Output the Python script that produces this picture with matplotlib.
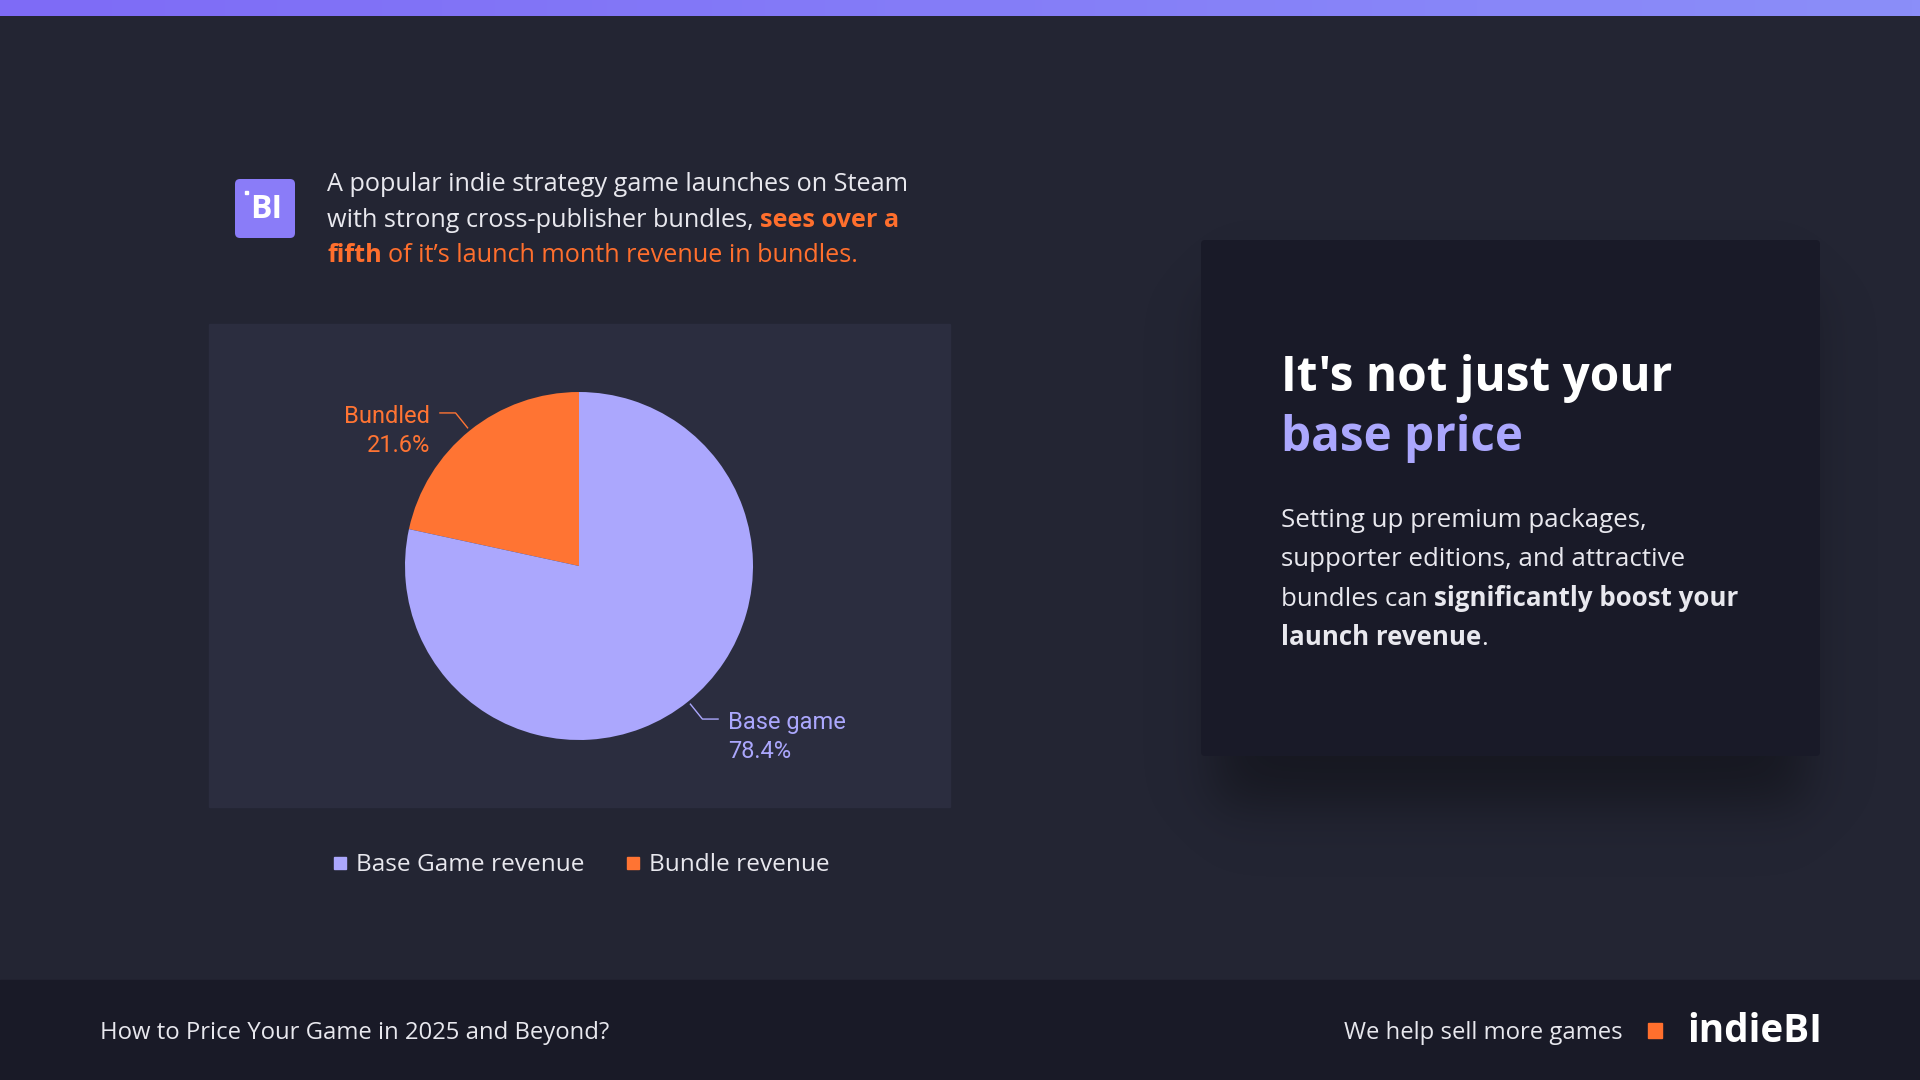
import matplotlib.pyplot as plt
import numpy as np
from matplotlib.patches import FancyBboxPatch, Rectangle
from matplotlib.colors import LinearSegmentedColormap

plt.rcParams['font.family'] = ['Open Sans', 'DejaVu Sans']

# data
slice_names = ['Bundled', 'Base game']
slice_shares = [21.6, 78.4]
slice_colors = ['#ff7433', '#aba7fd']
legend_names = ['Base Game revenue', 'Bundle revenue']
legend_colors = ['#aba7fd', '#ff7433']

BG = '#232533'
PANEL = '#2b2d3f'
CARD = '#191a28'
WHITE = '#e8e8ee'
ORANGE = '#ff6f2d'
LAV = '#aba7fd'

fig = plt.figure(figsize=(19.2, 10.8), dpi=100, facecolor=BG)
ov = fig.add_axes([0, 0, 1, 1])
ov.set_xlim(0, 1920)
ov.set_ylim(1080, 0)
ov.axis('off')
rend = fig.canvas.get_renderer()

# top gradient bar
grad = np.linspace(0, 1, 256).reshape(1, -1)
bar_cmap = LinearSegmentedColormap.from_list('bar', ['#7e6bf6', '#8b8ef9'])
ov.imshow(grad, cmap=bar_cmap, extent=[0, 1920, 16, 0], aspect='auto', zorder=1)

# footer
ov.add_patch(Rectangle((0, 980), 1920, 100, color='#191a27', zorder=1))


def runs(x, y, parts, size):
    # draw text pieces one after another on a baseline
    sp = None
    for i, (s, color, weight) in enumerate(parts):
        if i > 0 and s.startswith(' '):
            if sp is None:
                a = ov.text(0, 0, 'a a', fontsize=size)
                b = ov.text(0, 0, 'aa', fontsize=size)
                sp = a.get_window_extent(rend).width - b.get_window_extent(rend).width
                a.remove()
                b.remove()
            x += sp
            s = s.lstrip(' ')
        t = ov.text(x, y, s, color=color, fontsize=size, fontweight=weight,
                    va='baseline', ha='left', zorder=5)
        x += t.get_window_extent(rend).width
    return x


# logo square
ov.add_patch(FancyBboxPatch((235, 179), 60, 59, boxstyle='round,pad=0,rounding_size=5',
                            facecolor='#8a7cf8', edgecolor='none', zorder=3))
ov.text(266, 210, 'BI', color='white', fontsize=23, fontweight='bold', ha='center', va='center', zorder=4)
ov.add_patch(Rectangle((245, 191), 3, 3, color='white', zorder=4))

# intro paragraph
fs_p = 18.2
runs(327, 191, [('A popular indie strategy game launches on Steam', WHITE, 'normal')], fs_p)
runs(327, 227, [('with strong cross-publisher bundles,', WHITE, 'normal'),
                (' sees over a', ORANGE, 'bold')], fs_p)
runs(327, 262, [('fifth', ORANGE, 'bold'),
                (' of it\u2019s launch month revenue in bundles.', ORANGE, 'normal')], fs_p)

# chart panel
ov.add_patch(Rectangle((209, 324), 741, 483, color=PANEL, zorder=2))

# pie
cx, cy, r = 579, 566, 174
pax = fig.add_axes([(cx - r) / 1920, (1080 - cy - r) / 1080, 2 * r / 1920, 2 * r / 1080])
pax.set_zorder(3)
wedges, _ = pax.pie(slice_shares, colors=slice_colors, startangle=90, counterclock=True,
                    radius=1, wedgeprops=dict(linewidth=0))
pax.set_xlim(-1, 1)
pax.set_ylim(-1, 1)
pax.axis('off')

for w, name, share, col in zip(wedges, slice_names, slice_shares, slice_colors):
    ang = np.deg2rad((w.theta1 + w.theta2) / 2)
    x0, y0 = 1.02 * np.cos(ang), 1.02 * np.sin(ang)
    x1, y1 = 1.13 * np.cos(ang), 1.13 * np.sin(ang)
    side = np.sign(np.cos(ang))
    x2 = x1 + side * 0.09
    pax.plot([x0, x1, x2], [y0, y1, y1], color=col, lw=1, clip_on=False)
    pax.text(x2 + side * 0.055, y1 + 0.045, f'{name}\n{share}%', color=col, fontsize=17,
             family='Roboto', ha='right' if side < 0 else 'left', va='top', linespacing=1.3,
             multialignment='right' if side < 0 else 'left', clip_on=False)

# legend
lx = [334, 627]
for x, name, col in zip(lx, legend_names, legend_colors):
    ov.add_patch(Rectangle((x, 857), 12, 12, color=col, zorder=4))
    ov.text(x + 22, 865, name, color=WHITE, fontsize=17.6, va='center', ha='left', zorder=4)

# right card with soft blurred shadow
sx = np.arange(1100, 1920) + 0.5
sy = np.arange(220, 940) + 0.5
s = 32.0
fx = 0.5 * (np.tanh((sx - 1215) / s) - np.tanh((sx - 1806) / s))
fy = 0.5 * (np.tanh((sy - 290) / s) - np.tanh((sy - 805) / s))
shadow = np.zeros((len(sy), len(sx), 4))
shadow[..., 3] = 0.36 * np.outer(fy, fx)
ov.imshow(shadow, extent=[1100, 1920, 940, 220], aspect='auto', zorder=2, interpolation='bilinear')
ov.set_xlim(0, 1920)
ov.set_ylim(1080, 0)
ov.add_patch(FancyBboxPatch((1201, 240), 619, 516, boxstyle='round,pad=0,rounding_size=4',
                            facecolor=CARD, edgecolor='none', zorder=3))

runs(1281, 391, [("It's not just your", 'white', 'bold')], 34.3)
runs(1281, 451, [('base price', LAV, 'bold')], 34.3)
fs_b = 18.6
runs(1281, 527, [('Setting up premium packages,', WHITE, 'normal')], fs_b)
runs(1281, 566, [('supporter editions, and attractive', WHITE, 'normal')], fs_b)
runs(1281, 606, [('bundles can', WHITE, 'normal'), (' significantly boost your', WHITE, 'bold')], fs_b)
runs(1281, 645, [('launch revenue', WHITE, 'bold'), ('.', WHITE, 'normal')], fs_b)

# footer texts
ov.text(100, 1033, 'How to Price Your Game in 2025 and Beyond?', color=WHITE, fontsize=17.2,
        va='center', ha='left', zorder=4)
ov.text(1623, 1033, 'We help sell more games', color=WHITE, fontsize=17.2,
        va='center', ha='right', zorder=4)
ov.add_patch(Rectangle((1648, 1023), 14, 15, color=ORANGE, zorder=4))
ov.text(1687, 1032, 'indieBI', color='white', fontsize=27.8, fontweight='bold',
        va='center', ha='left', zorder=4)

fig.savefig('out.png', dpi=100, facecolor=BG)
